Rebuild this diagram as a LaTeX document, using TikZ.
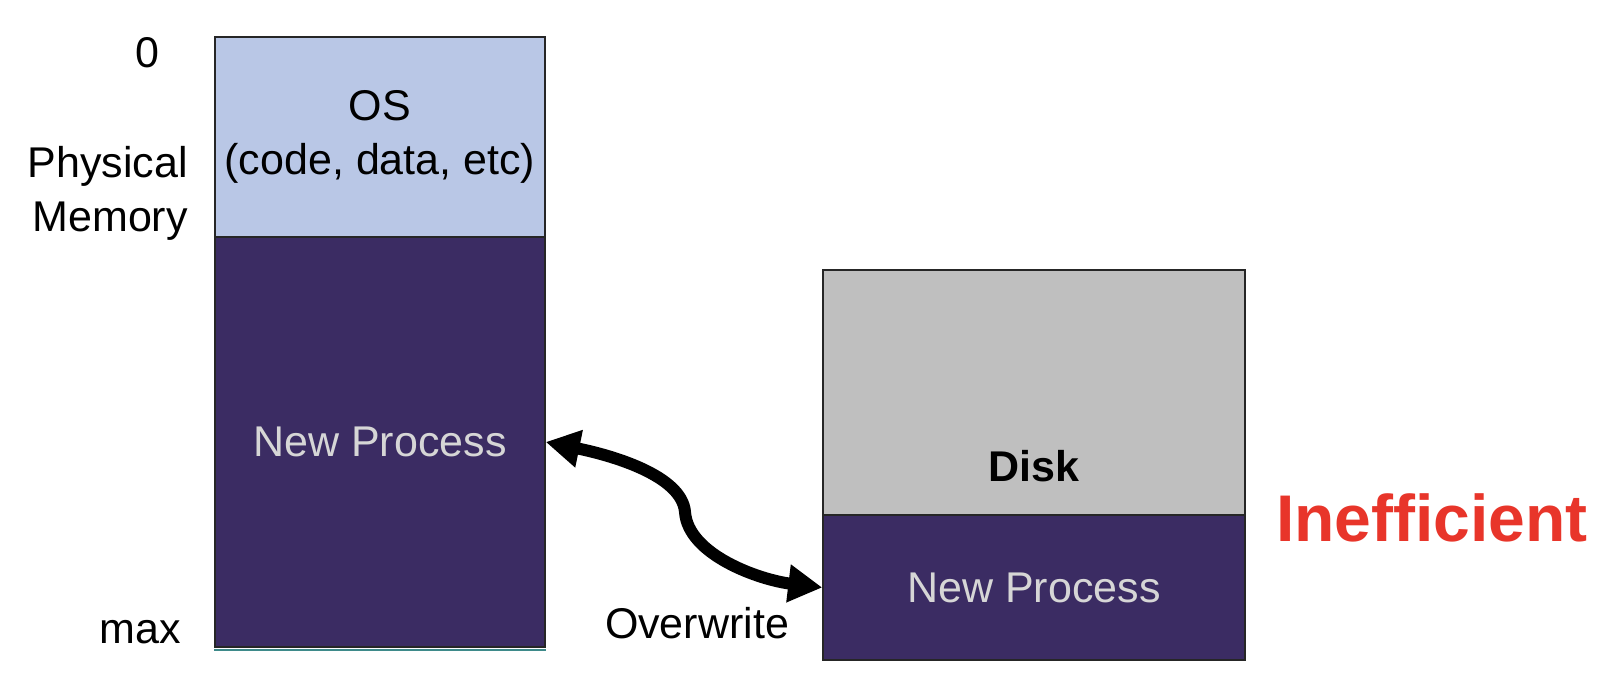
\documentclass[tikz,border=0pt]{standalone}
\usepackage{fontspec}
\setmainfont{Liberation Sans}
\usetikzlibrary{arrows.meta, positioning}

\definecolor{osblue}{HTML}{B9C7E6}
\definecolor{procpurple}{HTML}{3B2C63}
\definecolor{diskgray}{HTML}{BFBFBF}
\definecolor{alertred}{HTML}{E8352A}
\definecolor{proctext}{HTML}{D6D6D6}
\definecolor{edgeteal}{HTML}{3E8A8A}

\begin{document}
\begin{tikzpicture}[x=1pt, y=-1pt, >={Triangle[length=34pt,width=36pt]},
    lbl/.style={font=\fontsize{43}{54}\selectfont, inner sep=0pt, align=center},
    blk/.style={draw=black!85, line width=1.5pt, inner sep=0pt, lbl}]
    \useasboundingbox (0,0) rectangle (1624,692);

    % Physical memory
    \node[blk, fill=osblue, minimum width=330pt, minimum height=200pt] (os) at (380,137) {OS\\(code, data, etc)};
    \node[blk, fill=procpurple, text=proctext, minimum width=330pt, minimum height=410pt] (newproc) at (380,442) {New Process};
    \draw[edgeteal, line width=2pt] ([yshift=-2pt]newproc.south west) -- ([yshift=-2pt]newproc.south east);

    % Disk
    \node[blk, fill=diskgray, minimum width=422pt, minimum height=245pt] (disk) at (1034,392.5) {};
    \node[blk, fill=procpurple, text=proctext, minimum width=422pt, minimum height=145pt] (disknew) at (1034,587.5) {New Process};
    \node[lbl, font=\fontsize{43}{54}\selectfont\bfseries] (disklbl) at (1034,466) {Disk};

    % Labels
    \node[lbl] (zero) at (147,53) {0};
    \node[lbl, align=right, anchor=east] (physmem) at (188,193) {Physical\\Memory};
    \node[lbl] (maxlbl) at (140,632) {max};
    \node[lbl] (overwrite) at (697,623) {Overwrite};
    \node[lbl, text=alertred, font=\fontsize{66}{70}\selectfont\bfseries] (ineff) at (1432,518) {Inefficient};

    % Swap arrow
    \draw[<->, line width=12pt] (newproc.east) .. controls (610,455) and (682,475) .. (685,512)
        .. controls (688,555) and (760,580) .. (disknew.west);
\end{tikzpicture}
\end{document}
